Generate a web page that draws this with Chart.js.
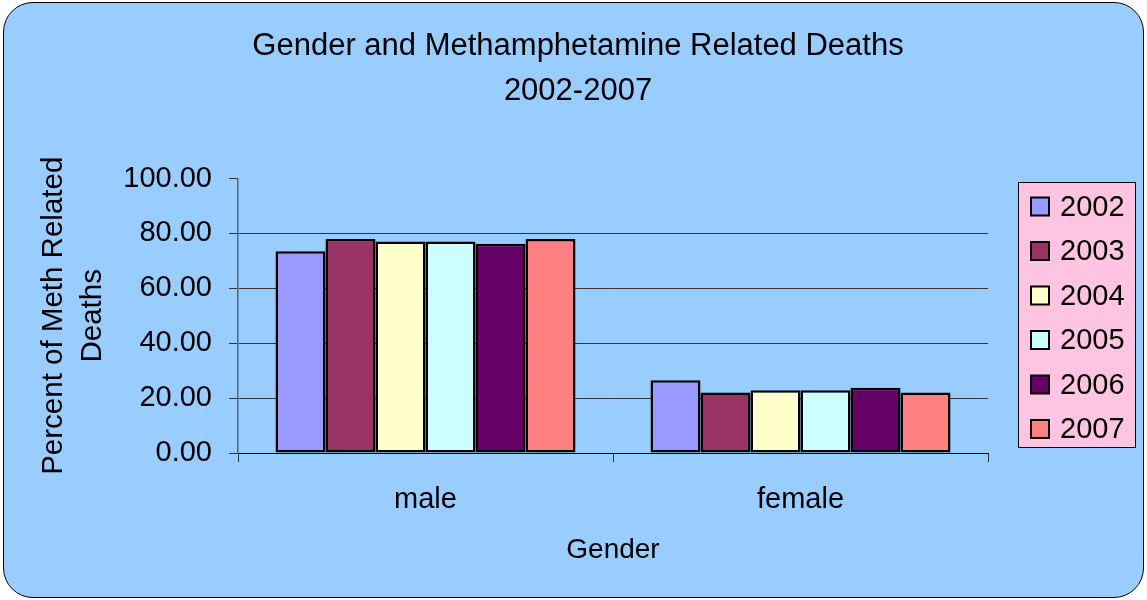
<!DOCTYPE html>
<html>
<head>
<meta charset="utf-8">
<script src="https://cdn.jsdelivr.net/npm/chart.js@4"></script>
<style>
  html, body { margin: 0; padding: 0; background: #fff; }
  #wrap { position: relative; width: 1147px; height: 600px; }
  #frame { position: absolute; left: 3px; top: 2px; width: 1139px; height: 594px;
           border: 1.5px solid #000; border-radius: 30px; background: #99ccff; }
  #myChart { position: absolute; left: 0; top: 0; }
</style>
</head>
<body>
<div id="wrap">
  <div id="frame"></div>
  <canvas id="myChart" width="1147" height="600"></canvas>
</div>
<script>
  const genders = ['male', 'female']
  const years = ['2002', '2003', '2004', '2005', '2006', '2007']
  const y2002 = [73.5, 26.5]
  const y2003 = [78.0, 22.0]
  const y2004 = [77.1, 22.9]
  const y2005 = [77.1, 22.9]
  const y2006 = [76.2, 23.8]
  const y2007 = [78.0, 22.0]
  const yTicks = [0, 20, 40, 60, 80, 100]

  const colors = ['#9999ff', '#993366', '#ffffcc', '#ccffff', '#660066', '#ff8080']
  const series = [y2002, y2003, y2004, y2005, y2006, y2007]

  const FONT = "'Liberation Sans', Arial, sans-serif"
  Chart.defaults.font.family = FONT
  Chart.defaults.color = '#000'

  // empty box on the right, keeps the plot narrow while the title stays centred on the whole chart
  const rightSpace = {
    id: 'rightSpace',
    beforeInit(chart) {
      Chart.layouts.addBox(chart, {
        position: 'right',
        weight: 0,
        fullSize: false,
        options: {},
        update(maxW, maxH) { this.width = 159; this.height = maxH },
        isHorizontal() { return false },
        getPadding() { return { left: 0, right: 0, top: 0, bottom: 0 } },
        draw() {}
      })
    }
  }

  // legend drawn by hand so the pink box sits where the original has it
  const pinkLegend = {
    id: 'pinkLegend',
    afterDraw(chart) {
      const ctx = chart.ctx
      ctx.save()
      ctx.fillStyle = '#ffc4e1'
      ctx.strokeStyle = '#000'
      ctx.lineWidth = 1
      ctx.fillRect(1018, 182, 117, 265)
      ctx.strokeRect(1018.5, 182.5, 117, 265)
      ctx.font = '29px ' + FONT
      ctx.textBaseline = 'middle'
      chart.data.datasets.forEach((ds, i) => {
        const cy = 206.5 + i * 44.5
        ctx.fillStyle = ds.backgroundColor
        ctx.fillRect(1031, cy - 9, 18, 18)
        ctx.lineWidth = 2
        ctx.strokeRect(1031, cy - 9, 18, 18)
        ctx.fillStyle = '#000'
        ctx.fillText(ds.label, 1060, cy + 1)
      })
      ctx.restore()
    }
  }

  new Chart('myChart', {
    type: 'bar',
    data: {
      labels: genders,
      datasets: years.map((yr, i) => ({
        label: yr,
        data: series[i],
        backgroundColor: colors[i],
        borderColor: '#000',
        borderWidth: 2.5,
        borderSkipped: false,
        categoryPercentage: 0.8,
        barPercentage: 1.0
      }))
    },
    options: {
      responsive: false,
      animation: false,
      layout: { padding: { left: 9, right: 0, top: 0, bottom: 30 } },
      plugins: {
        legend: { display: false },
        tooltip: { enabled: false },
        title: {
          display: true,
          text: ['Gender and Methamphetamine Related Deaths', '2002-2007'],
          font: { size: 31, weight: 'normal', lineHeight: 1.46 },
          color: '#000',
          padding: { top: 24, bottom: 64 }
        }
      },
      scales: {
        x: {
          afterFit(scale) { scale.height = 117 },
          grid: { display: true, drawOnChartArea: false, offset: true, tickLength: 9, color: '#333' },
          border: { display: true, color: '#000', width: 1 },
          ticks: { font: { size: 29 }, padding: 21, color: '#000' },
          title: { display: true, text: 'Gender', font: { size: 28 }, color: '#000', padding: { top: 0, bottom: 3 } }
        },
        y: {
          min: 0,
          max: 100,
          afterFit(scale) { scale.width = 229 },
          afterBuildTicks(scale) { scale.ticks = yTicks.map(v => ({ value: v })) },
          grid: {
            tickLength: 9,
            color: ctx => (ctx.tick && ctx.tick.value === 100) ? 'rgba(0,0,0,0)' : '#333',
            tickColor: '#333'
          },
          border: { display: true, color: '#556677', width: 1.5 },
          ticks: { font: { size: 29 }, padding: 17, color: '#000', callback: v => v.toFixed(2) },
          title: {
            display: true,
            text: ['Percent of Meth Related', 'Deaths'],
            font: { size: 29.5, lineHeight: 1.3 },
            color: '#000',
            padding: { top: 26, bottom: 0 }
          }
        }
      }
    },
    plugins: [rightSpace, pinkLegend]
  })
</script>
</body>
</html>
